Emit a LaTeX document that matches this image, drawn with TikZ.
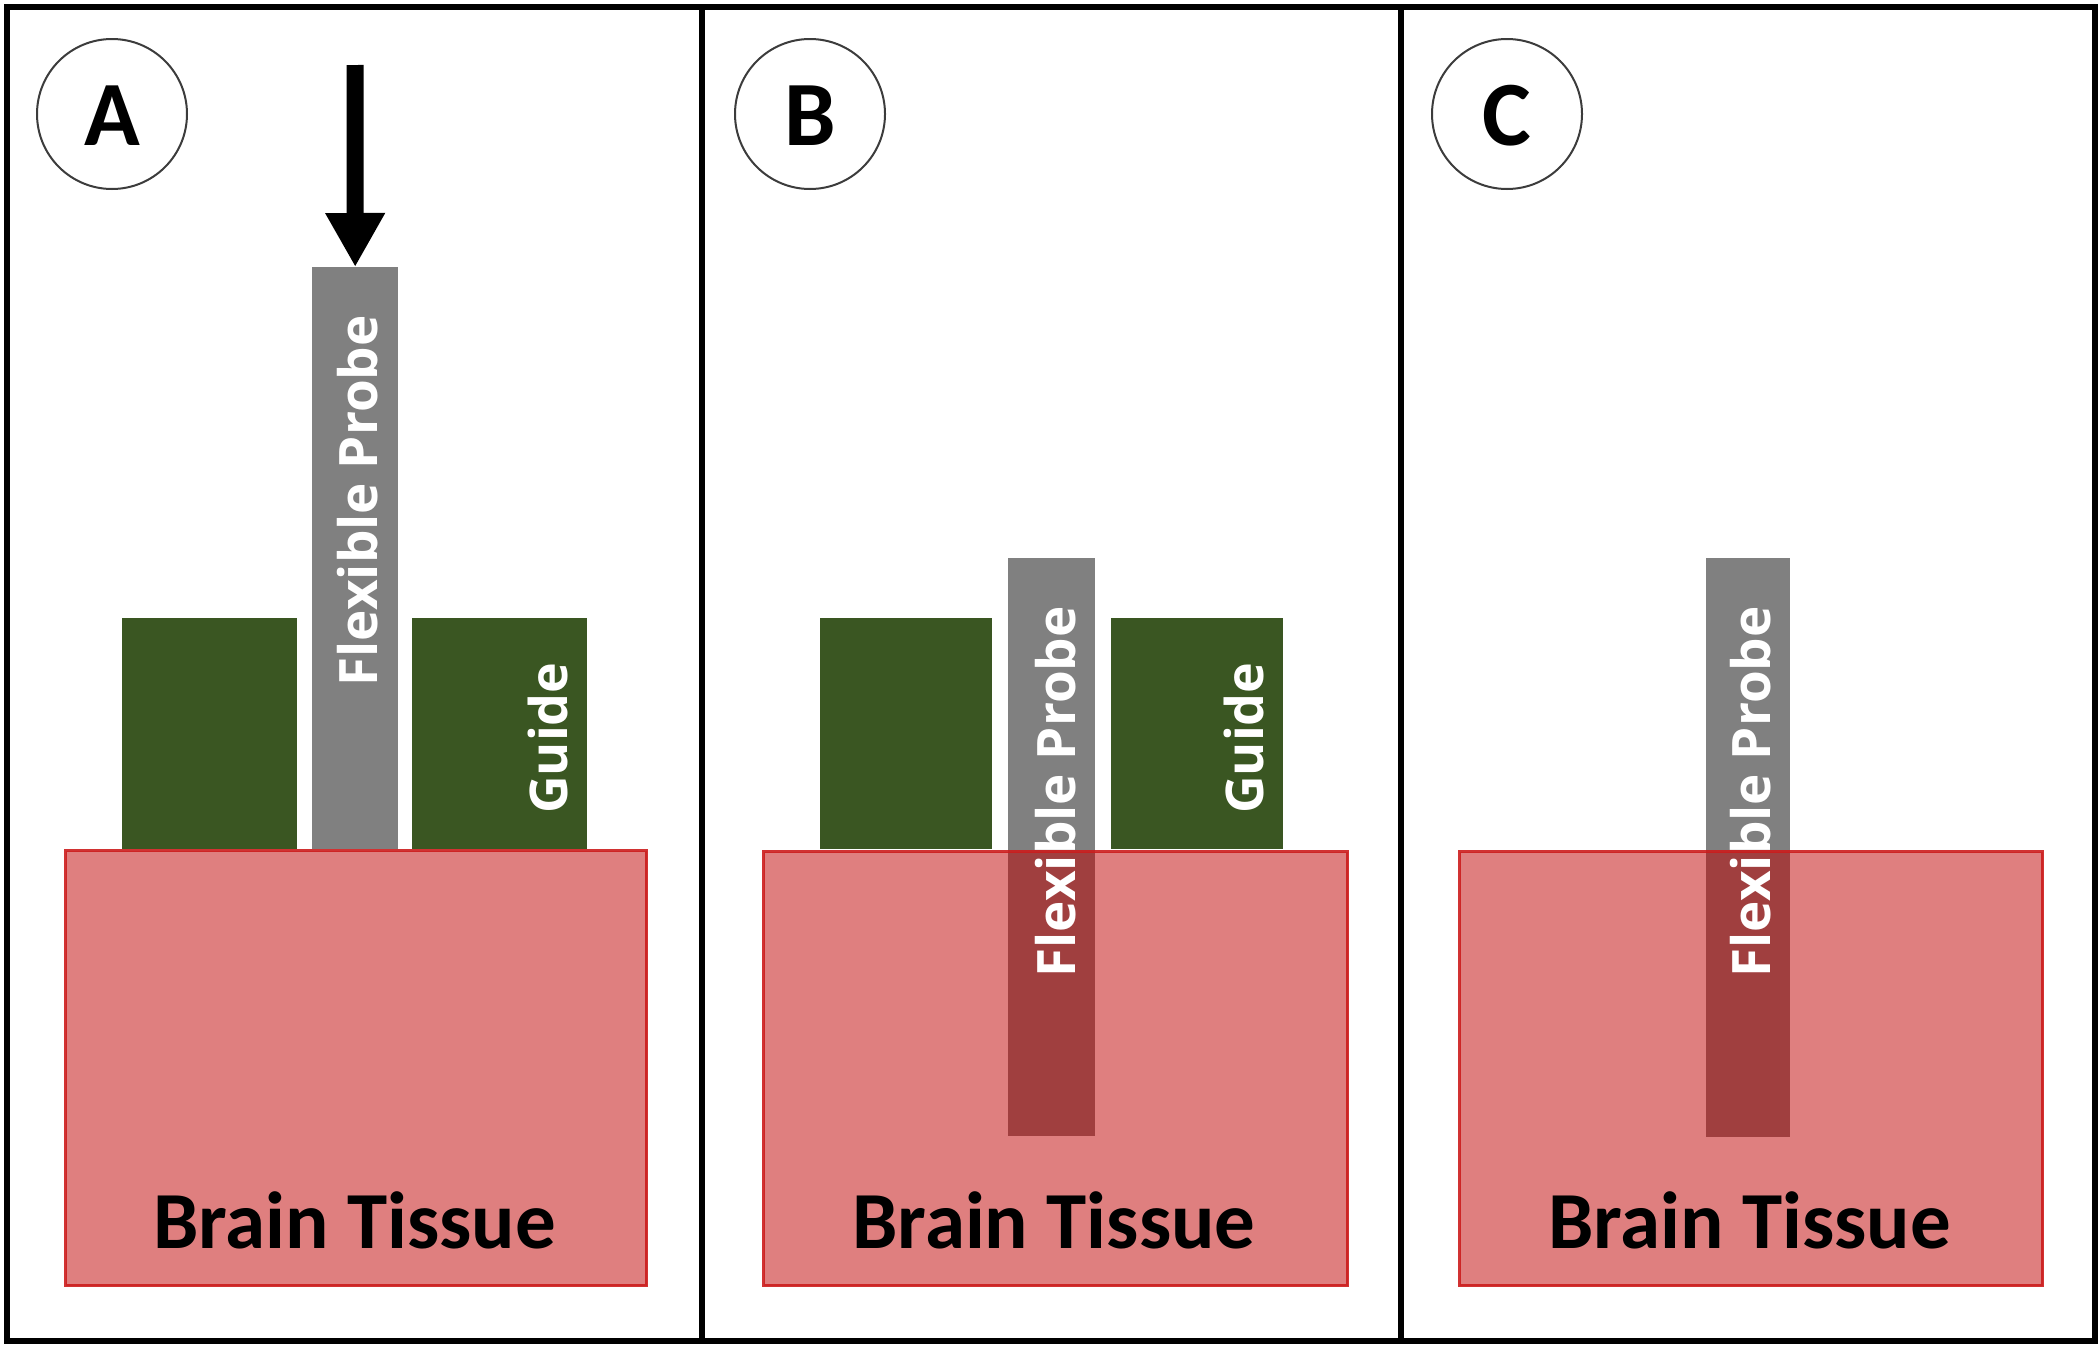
\documentclass[tikz,border=0pt]{standalone}
\usepackage{fontspec}
\setmainfont{Carlito}
\newfontfamily\probefont{Open Sans}
\usetikzlibrary{arrows.meta}
\definecolor{guidegreen}{RGB}{58,86,34}
\definecolor{probegray}{RGB}{128,128,128}
\definecolor{tissuered}{RGB}{192,0,0}
\definecolor{tissueline}{RGB}{204,28,28}
\definecolor{circleline}{RGB}{60,60,60}
\tikzset{
  guidebox/.style={fill=guidegreen, draw=none, inner sep=0pt, anchor=north west},
  probebox/.style={fill=probegray, draw=none, inner sep=0pt, anchor=north west},
  tissuebox/.style={fill=tissuered, fill opacity=0.5, draw=tissueline, draw opacity=0.9, line width=3pt, inner sep=0pt, anchor=north west},
  tissuelabel/.style={inner sep=0pt, anchor=base, font=\bfseries\fontsize{81}{90}\selectfont},
  probelabel/.style={inner sep=0pt, rotate=90, anchor=base east, text=white, font=\probefont\bfseries\fontsize{53}{60}\selectfont},
  guidelabel/.style={inner sep=0pt, rotate=90, anchor=base, text=white, font=\probefont\bfseries\fontsize{52}{60}\selectfont},
  steplabel/.style={circle, draw=circleline, line width=2pt, minimum size=150pt, inner sep=0pt},
  stepletter/.style={inner sep=0pt, anchor=base, font=\bfseries\fontsize{92}{100}\selectfont},
  pusharrow/.style={line width=17pt, -{Triangle[length=54pt,width=56pt]}},
  frameline/.style={line width=5.5pt, black}
}
\begin{document}
\begin{tikzpicture}[x=1pt, y=-1pt]
\useasboundingbox (0,0) rectangle (2100,1347);
% frame
\draw[frameline] (7,7) rectangle (2095,1341);
\draw[frameline] (702,7) -- (702,1341);
\draw[frameline] (1401,7) -- (1401,1341);

% ---------- Panel A ----------
\node[steplabel] (cA) at (112,114) {};
\node[stepletter] (lA) at (112,145) {A};
\node[guidebox, minimum width=175pt, minimum height=231pt] (gA1) at (122,618) {};
\node[guidebox, minimum width=175pt, minimum height=231pt] (gA2) at (412,618) {};
\node[probebox, minimum width=86pt, minimum height=582pt] (pA) at (312,267) {};
\node[tissuebox, minimum width=581pt, minimum height=435pt] (tA) at (64,849) {};
\coordinate (arrA) at (355,65);
\draw[pusharrow] (arrA) -- (pA.north);
\node[probelabel] (plA) at (377,315) {Flexible Probe};
\node[guidelabel] (glA) at (567,738) {Guide};
\node[tissuelabel] (tlA) at (354.5,1248) {Brain Tissue};

% ---------- Panel B ----------
\node[steplabel] (cB) at (810,114) {};
\node[stepletter] (lB) at (810,145) {B};
\node[guidebox, minimum width=172pt, minimum height=231pt] (gB1) at (820,618) {};
\node[guidebox, minimum width=172pt, minimum height=231pt] (gB2) at (1111,618) {};
\node[probebox, minimum width=87pt, minimum height=578pt] (pB) at (1008,558) {};
\node[tissuebox, minimum width=584pt, minimum height=434pt] (tB) at (762,850) {};
\node[probelabel] (plB) at (1075,606) {Flexible Probe};
\node[guidelabel] (glB) at (1263,738) {Guide};
\node[tissuelabel] (tlB) at (1054,1248) {Brain Tissue};

% ---------- Panel C ----------
\node[steplabel] (cC) at (1507,114) {};
\node[stepletter] (lC) at (1507,145) {C};
\node[probebox, minimum width=84pt, minimum height=579pt] (pC) at (1706,558) {};
\node[tissuebox, minimum width=583pt, minimum height=434pt] (tC) at (1458,850) {};
\node[probelabel] (plC) at (1770,606) {Flexible Probe};
\node[tissuelabel] (tlC) at (1749.5,1248) {Brain Tissue};
\end{tikzpicture}
\end{document}
